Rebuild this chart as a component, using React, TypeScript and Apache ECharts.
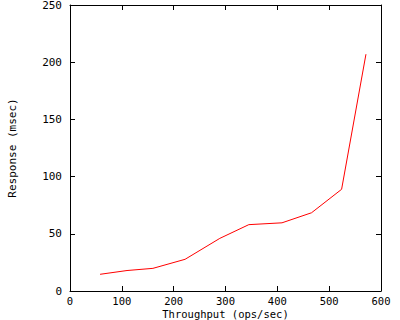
import React, { useEffect, useRef } from "react";
import * as echarts from "echarts";

const throughput = [58, 110, 160, 222, 289, 345, 409, 466, 524, 571];
const response = [14.6, 17.9, 19.8, 27.7, 46, 58, 59.6, 68.4, 88.9, 207];
const xTitle = "Throughput (ops/sec)";
const yTitle = "Response (msec)";

const FONT = "DejaVu Sans Mono";

export default function App() {
  const ref = useRef<HTMLDivElement>(null);
  useEffect(() => {
    if (!ref.current) return;
    const chart = echarts.init(ref.current, null, { renderer: "svg" });
    const axisCommon = {
      type: "value" as const,
      axisLine: { show: true, onZero: false, lineStyle: { color: "#000", width: 1 } },
      axisTick: { show: true, inside: true, length: 5, lineStyle: { color: "#000", width: 1 } },
      splitLine: { show: false },
    };
    chart.setOption({
      animation: false,
      backgroundColor: "#fff",
      grid: { left: 70, right: 19, top: 5, bottom: 29, containLabel: false, outerBoundsMode: "none" },
      xAxis: [
        {
          ...axisCommon,
          position: "bottom",
          min: 0,
          max: 600,
          interval: 100,
          axisLabel: { color: "#000", fontFamily: FONT, fontSize: 10.5, margin: 5, lineHeight: 10.5 },
          name: xTitle,
          nameLocation: "middle",
          nameGap: 18,
          nameMoveOverlap: false,
          nameTextStyle: { color: "#000", fontFamily: FONT, fontSize: 10.5, lineHeight: 10.5 },
        },
        {
          ...axisCommon,
          position: "top",
          min: 0,
          max: 600,
          interval: 100,
          axisLabel: { show: false },
        },
      ],
      yAxis: [
        {
          ...axisCommon,
          position: "left",
          min: 0,
          max: 250,
          interval: 50,
          axisLabel: { color: "#000", fontFamily: FONT, fontSize: 11, margin: 8 },
          name: yTitle,
          nameLocation: "middle",
          nameGap: 52,
          nameRotate: 90,
          nameMoveOverlap: false,
          nameTextStyle: { color: "#000", fontFamily: FONT, fontSize: 11 },
        },
        {
          ...axisCommon,
          position: "right",
          min: 0,
          max: 250,
          interval: 50,
          axisLabel: { show: false },
        },
      ],
      series: [
        {
          type: "line",
          data: throughput.map((x, i) => [x, response[i]]),
          showSymbol: false,
          symbol: "none",
          lineStyle: { color: "#ff0000", width: 1 },
          itemStyle: { color: "#ff0000" },
        },
      ],
    });
    return () => chart.dispose();
  }, []);
  return (
    <div
      ref={ref}
      style={{ position: "fixed", left: 0, top: 0, width: 400, height: 320, background: "#fff" }}
    />
  );
}
